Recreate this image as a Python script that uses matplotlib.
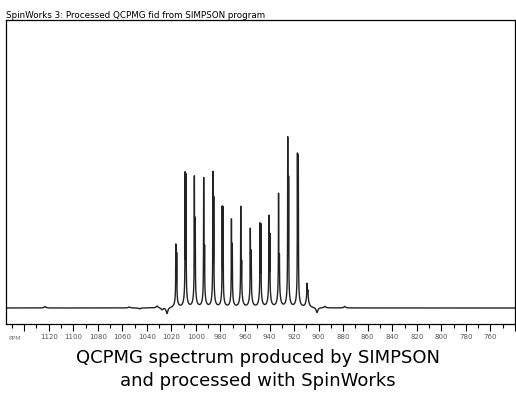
import numpy as np
import matplotlib
matplotlib.use('Agg')
import matplotlib.pyplot as plt

# ---------------- data ----------------
# spikelet positions (ppm) of the QCPMG sideband manifold
spike_ppm = [1016.1, 1008.5, 1001.0, 993.4, 985.9, 978.3, 970.8, 963.2,
             955.4, 947.5, 940.2, 932.4, 924.9, 917.0, 909.2]
# tall (thin) part and inner (thick) part of every spikelet, plus its broad pedestal
spike_top = [63, 133, 129, 128, 134, 100, 87, 100, 78, 83, 90, 113, 167, 151, 24]
spike_inner = [55, 133, 88, 60, 109, 100, 63, 46, 57, 83, 73, 52, 128, 151, 18]
hump_height = [15, 24, 23, 21, 23, 18, 16, 20, 20, 20, 22, 25, 25, 24, 15]
# small baseline wiggles (ppm, height)
wiggle_ppm = [1123.0, 1054.4, 1046.0, 1031.7, 1027.7, 1023.6, 901.4, 894.9, 878.7]
wiggle_height = [1.5, 1.0, -1.0, 2.0, -2.0, -6.0, -5.0, 1.5, 1.5]

major_ticks = list(range(1140, 739, -20))
tick_labels = ['' if (t > 1120 or t < 760) else str(t) for t in major_ticks]

# ---------------- build spectrum ----------------
def lorentz(x, x0, h, g):
    return h * g**2 / ((x - x0)**2 + g**2)

ppm = np.linspace(1160, 740, 12000)
y = np.zeros_like(ppm)
for p, top, inner, hump in zip(spike_ppm, spike_top, spike_inner, hump_height):
    y += lorentz(ppm, p, hump, 0.95)
    y += lorentz(ppm, p + 0.3, top - hump * 0.9, 0.12)
    y += lorentz(ppm, p - 0.4, inner - hump * 0.9, 0.12)
for p, h in zip(wiggle_ppm, wiggle_height):
    y += lorentz(ppm, p, h, 0.8)

# ---------------- plot ----------------
fig = plt.figure(figsize=(5.16, 3.93), dpi=100)
ax = fig.add_axes([6 / 516, 1 - 324 / 393, 509 / 516, 304 / 393])
ax.plot(ppm, y, color='#222222', lw=1.0)
ax.set_xlim(1154.8, 742.5)
ax.set_ylim(-16, 288)
ax.set_yticks([])
ax.set_xticks(major_ticks)
ax.set_xticks(list(range(1150, 739, -20)), minor=True)
ax.set_xticklabels(tick_labels)
ax.tick_params(axis='x', which='major', direction='out', length=5, width=0.8,
               labelsize=5, labelcolor='#555555', pad=2.5)
ax.tick_params(axis='x', which='minor', direction='out', length=3, width=0.8)
for s in ax.spines.values():
    s.set_linewidth(0.9)

fig.text(8 / 516, 1 - 338 / 393, 'PPM', fontsize=4.5, color='#777777',
         ha='left', va='center')
fig.text(6 / 516, 1 - 18 / 393,
         'SpinWorks 3: Processed QCPMG fid from SIMPSON program',
         fontsize=6.3, ha='left', va='baseline', color='black')
fig.text(0.5, 1 - 358 / 393, 'QCPMG spectrum produced by SIMPSON',
         fontsize=13, ha='center', va='center')
fig.text(0.5, 1 - 381 / 393, 'and processed with SpinWorks',
         fontsize=13, ha='center', va='center')

fig.savefig('out.png', dpi=100)
